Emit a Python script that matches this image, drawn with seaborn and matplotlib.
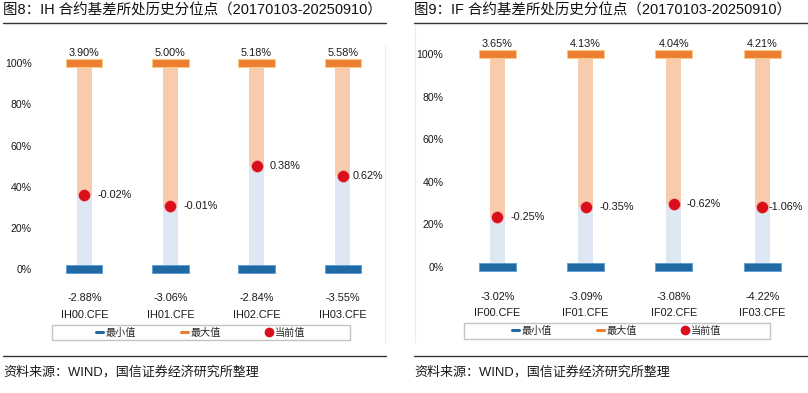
import numpy as np
import matplotlib
matplotlib.use("Agg")
import matplotlib.pyplot as plt
from matplotlib.lines import Line2D
from matplotlib.patches import Rectangle
import seaborn as sns

# ---------------- data ----------------
ih_names = ["IH00.CFE", "IH01.CFE", "IH02.CFE", "IH03.CFE"]
ih_max = [3.90, 5.00, 5.18, 5.58]
ih_min = [-2.88, -3.06, -2.84, -3.55]
ih_cur = [-0.02, -0.01, 0.38, 0.62]
ih_rank = [35.8, 30.5, 50.0, 45.1]

if_names = ["IF00.CFE", "IF01.CFE", "IF02.CFE", "IF03.CFE"]
if_max = [3.65, 4.13, 4.04, 4.21]
if_min = [-3.02, -3.09, -3.08, -4.22]
if_cur = [-0.25, -0.35, -0.62, -1.06]
if_rank = [23.3, 28.2, 29.5, 28.0]

rank_top = [100, 100, 100, 100]
rank_bottom = [0, 0, 0, 0]

legend_labels = ["最小值", "最大值", "当前值"]
titles = ["图8：IH 合约基差所处历史分位点（20170103-20250910）",
          "图9：IF 合约基差所处历史分位点（20170103-20250910）"]
source = "资料来源：WIND，国信证券经济研究所整理"

# ---------------- style ----------------
sns.set_theme(style="white")
plt.rcParams["font.family"] = ["Liberation Sans", "Noto Sans CJK SC"]

C_MAX = "#ED7D31"
C_MAX_EDGE = "#F7CB85"
C_MIN = "#1F69A4"
C_MIN_EDGE = "#5B9BD5"
C_PALE_MAX = "#F8CBAD"
C_PALE_MIN = "#DDE8F4"
C_DOT = "#D9101B"
TXT = "#1a1a1a"

W, H = 808, 393
fig = plt.figure(figsize=(W / 100, H / 100), dpi=100)


def px_axes(x0, x1, ytop, ybot):
    return fig.add_axes([x0 / W, 1 - ybot / H, (x1 - x0) / W, (ybot - ytop) / H])


def draw_panel(ax, names, vmax, vmin, vcur, rank, ylim, cap_h, cur_dx, min_dy, ypad):
    n = len(names)
    pos = np.arange(n)
    sns.barplot(x=names, y=rank_top, color=C_PALE_MAX, width=0.17, saturation=1,
                linewidth=0, ax=ax, zorder=1)
    sns.barplot(x=names, y=rank, color=C_PALE_MIN, width=0.17, saturation=1,
                linewidth=0, ax=ax, zorder=2)
    ax.bar(pos, cap_h, bottom=[v - cap_h / 2 for v in rank_top], width=0.42,
           color=C_MAX, edgecolor=C_MAX_EDGE, linewidth=0.8, zorder=3)
    ax.bar(pos, cap_h, bottom=[v - cap_h / 2 for v in rank_bottom], width=0.42,
           color=C_MIN, edgecolor=C_MIN_EDGE, linewidth=0.6, zorder=3)
    sns.stripplot(x=names, y=rank, jitter=False, size=8.6, color=C_DOT,
                  linewidth=0.4, edgecolor="#f3b0b0", ax=ax, zorder=5)
    for i in range(n):
        ax.annotate(f"{vmax[i]:.2f}%", (i, rank_top[i]), xytext=(0, 7.6),
                    textcoords="offset points", ha="center", va="center",
                    fontsize=7.8, color=TXT)
        ax.annotate(f"{vmin[i]:.2f}%", (i, rank_bottom[i]), xytext=(0, min_dy),
                    textcoords="offset points", ha="center", va="center",
                    fontsize=7.8, color=TXT)
        ax.annotate(f"{vcur[i]:.2f}%", (i, rank[i]), xytext=(cur_dx[i], 0),
                    textcoords="offset points", ha="left", va="center",
                    fontsize=7.8, color=TXT)
    ax.set_xlim(-0.5, n - 0.5)
    ax.set_ylim(*ylim)
    ax.set_yticks([0, 20, 40, 60, 80, 100])
    ax.set_yticklabels([f"{v}%" for v in [0, 20, 40, 60, 80, 100]])
    ax.set_xticks(pos)
    ax.set_xticklabels(names)
    ax.tick_params(left=False, bottom=False, length=0, labelsize=7.6, labelcolor=TXT)
    ax.tick_params(axis="y", pad=ypad)
    ax.tick_params(axis="x", pad=17.5, labelsize=7.8)
    ax.set_xlabel("")
    ax.set_ylabel("")
    for s in ax.spines.values():
        s.set_visible(False)
    ax.set_facecolor("none")


# left panel: 100% at y=63.3px, 0% at 269px
axL = px_axes(41.3, 385.7, 42.7, 285.5)
draw_panel(axL, ih_names, ih_max, ih_min, ih_cur, ih_rank, (-8, 110), 3.9,
           [9.5, 9.5, 9.5, 7.0], -21.0, 6.8)
# right panel: 100% at 54.3px, 0% at 266.7px
axR = px_axes(453.1, 806.3, 33.1, 283.7)
draw_panel(axR, if_names, if_max, if_min, if_cur, if_rank, (-8, 110), 3.8,
           [9.7, 9.7, 9.2, 4.3], -22.0, 7.0)

# legends
handles = [Line2D([], [], color=C_MIN, lw=2.2),
           Line2D([], [], color=C_MAX, lw=2.2),
           Line2D([], [], color=C_DOT, lw=0, marker="o", markersize=6)]
for ax, (bx0, bx1, by0, by1) in [(axL, (52, 350, 325, 340)), (axR, (464, 770, 323, 339))]:
    cx = (bx0 + bx1) / 2 / W
    cy = 1 - (by0 + by1) / 2 / H
    fig.legend(handles, legend_labels, ncol=3, frameon=False, loc="center",
               bbox_to_anchor=(cx, cy), handlelength=0.7,
               handletextpad=0.25, columnspacing=4.4, borderpad=0,
               prop={"family": ["Noto Sans CJK SC"], "size": 7.3})
    fig.add_artist(Rectangle((bx0 / W, 1 - by1 / H), (bx1 - bx0) / W, (by1 - by0) / H,
                             transform=fig.transFigure, fill=False,
                             edgecolor="#c4c4c4", linewidth=1.0))

# titles, rules, source
for x0, x1, title in [(3, 385.7, titles[0]), (414, 807, titles[1])]:
    fig.text(x0 / W, 1 - 10.5 / H, title, ha="left", va="center", fontsize=10.45,
             color="#111111")
    fig.add_artist(Line2D([x0 / W, x1 / W], [1 - 22.5 / H, 1 - 22.5 / H],
                          transform=fig.transFigure, color="#333333", lw=1.0))
    fig.add_artist(Line2D([x0 / W, x1 / W], [1 - 356 / H, 1 - 356 / H],
                          transform=fig.transFigure, color="#333333", lw=1.0))
    fig.text((x0 + 0.5) / W, 1 - 372 / H, source, ha="left", va="center",
             fontsize=9.4, color=TXT)

# faint chart-area borders
fig.add_artist(Line2D([385.3 / W, 385.3 / W], [1 - 45 / H, 1 - 342 / H],
                      transform=fig.transFigure, color="#ececec", lw=0.8))
fig.add_artist(Line2D([415 / W, 415 / W], [1 - 25 / H, 1 - 342 / H],
                      transform=fig.transFigure, color="#ececec", lw=0.8))

fig.savefig("out.png", dpi=100, facecolor="white")
